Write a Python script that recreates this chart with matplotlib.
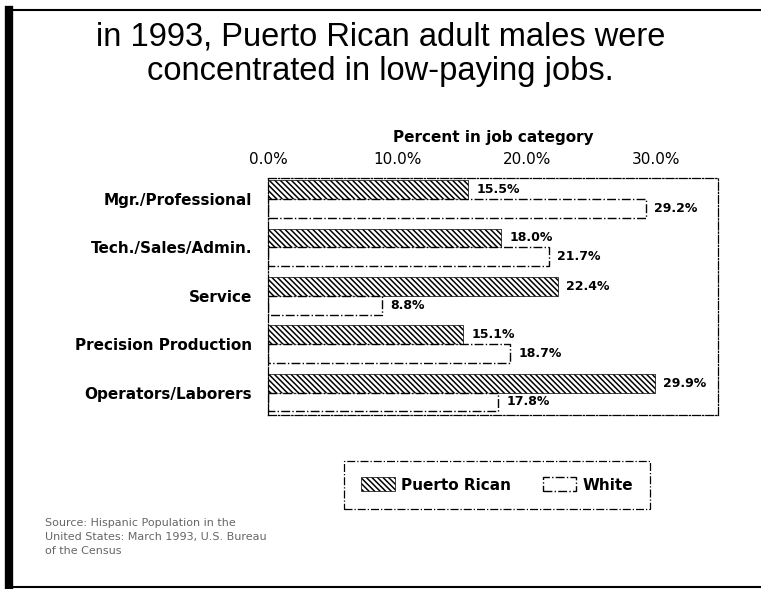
import matplotlib.pyplot as plt
from matplotlib.lines import Line2D
import numpy as np

# data
categories = ['Mgr./Professional', 'Tech./Sales/Admin.', 'Service',
              'Precision Production', 'Operators/Laborers']
puerto_rican = [15.5, 18.0, 22.4, 15.1, 29.9]
white = [29.2, 21.7, 8.8, 18.7, 17.8]
ticks = [0, 10, 20, 30]
tick_labels = ['0.0%', '10.0%', '20.0%', '30.0%']

title_lines = ['in 1993, Puerto Rican adult males were',
               'concentrated in low-paying jobs.']
source = ('Source: Hispanic Population in the\n'
          'United States: March 1993, U.S. Bureau\n'
          'of the Census')

plt.rcParams['hatch.linewidth'] = 1.1
plt.rcParams['font.family'] = 'DejaVu Sans'

W, H = 761, 589
fig = plt.figure(figsize=(W / 100, H / 100), dpi=100)

# plot area (dash-dot box)
ax = fig.add_axes([268 / W, 1 - 415 / H, 450 / W, 237 / H])

y = np.arange(len(categories))
h = 0.39
pr_bars = ax.barh(y - h / 2, puerto_rican, height=h, color='white',
                  edgecolor='black', hatch='\\' * 6, linewidth=0.5,
                  label='Puerto Rican')
wh_bars = ax.barh(y + h / 2, white, height=h, color='white',
                  edgecolor='black', linestyle='-.', linewidth=1.0,
                  label='White')

# value labels
for vals, off in [(puerto_rican, -h / 2), (white, h / 2)]:
    for i, v in enumerate(vals):
        ax.annotate(f'{v:.1f}%', xy=(v, i + off), xytext=(6, 0),
                    textcoords='offset points', ha='left', va='center',
                    fontsize=9, fontweight='bold')

ax.set_xlim(0, 34.8)
ax.set_ylim(4.465, -0.434)

ax.xaxis.tick_top()
ax.xaxis.set_label_position('top')
ax.set_xticks(ticks, tick_labels)
ax.tick_params(axis='x', length=0, pad=8, labelsize=11)
ax.set_xlabel('Percent in job category', fontweight='bold', fontsize=11,
              labelpad=7)

ax.set_yticks(y, categories)
ax.tick_params(axis='y', length=0, pad=11.5, labelsize=11)
for lab in ax.get_yticklabels():
    lab.set_fontweight('bold')

for s in ax.spines.values():
    s.set_linestyle('-.')
    s.set_linewidth(0.9)

# legend
leg = fig.legend(handles=[pr_bars, wh_bars], loc='center',
                 bbox_to_anchor=(497 / W, 1 - 485 / H), ncol=2,
                 prop=dict(weight='bold', size=11), handlelength=2.2,
                 handleheight=1.0, handletextpad=0.4, columnspacing=2.1,
                 borderpad=1.1, fancybox=False, edgecolor='black',
                 framealpha=1)
leg.get_frame().set_linestyle('-.')
leg.get_frame().set_linewidth(0.9)

# title
fig.text(0.5, 1 - 45 / H, title_lines[0], ha='center', va='baseline',
         fontsize=23.5, family='Liberation Sans')
fig.text(0.5, 1 - 80 / H, title_lines[1], ha='center', va='baseline',
         fontsize=23.5, family='Liberation Sans')

# source note
fig.text(45 / W, 1 - 518 / H, source, ha='left', va='top', fontsize=8,
         color='#666666', linespacing=1.5)

# page frame
fig.add_artist(Line2D([9 / W, 9 / W], [0, 1 - 10 / H], color='black',
                      linewidth=6, transform=fig.transFigure))
fig.add_artist(Line2D([9 / W, 1], [1 - 10 / H, 1 - 10 / H], color='black',
                      linewidth=1.5, transform=fig.transFigure))
fig.add_artist(Line2D([9 / W, 1], [1 - 587 / H, 1 - 587 / H], color='black',
                      linewidth=1.5, transform=fig.transFigure))

fig.savefig('out.png', dpi=100)
